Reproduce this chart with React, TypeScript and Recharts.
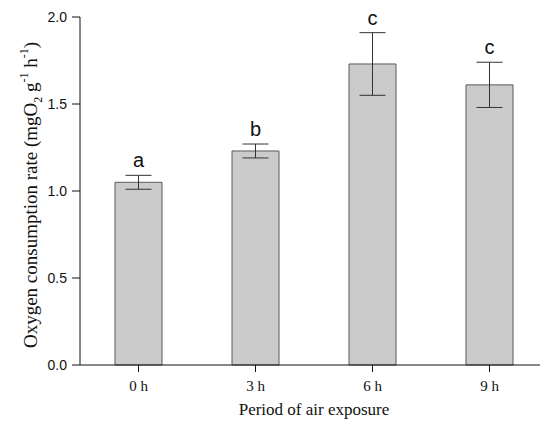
import React from 'react';
import { BarChart, Bar, XAxis, YAxis, ErrorBar } from 'recharts';

const categories = ['0 h', '3 h', '6 h', '9 h'];
const means = [1.05, 1.23, 1.73, 1.61];
const errors = [0.04, 0.04, 0.18, 0.13];
const letters = ['a', 'b', 'c', 'c'];
const yTicks = [0, 0.5, 1.0, 1.5, 2.0];

const data = categories.map((c, i) => ({ name: c, value: means[i], err: errors[i], letter: letters[i] }));

const serif = '"Liberation Serif", "Times New Roman", serif';
const sans = '"Liberation Sans", Arial, sans-serif';

const LetterLabel = (props: any) => {
  const { x, y, width, height, index } = props;
  if (index == null) return null;
  const pxPerUnit = height / means[index];
  const top = y - errors[index] * pxPerUnit;
  return (
    <text x={x + width / 2} y={top - 8} textAnchor="middle" fontFamily={sans} fontSize={20} fill="#111">
      {letters[index]}
    </text>
  );
};

const YTitle = (props: any) => {
  const vb = props.viewBox || {};
  const cx = 29;
  const cy = vb.y + vb.height / 2 + 4;
  return (
    <text
      transform={`translate(${cx},${cy}) rotate(-90)`}
      textAnchor="middle"
      fontFamily={serif}
      fontSize={19}
      fill="#111"
    >
      <tspan>Oxygen consumption rate (mgO</tspan>
      <tspan fontSize={12} dy={5}>2</tspan>
      <tspan fontSize={19} dy={-5}> g</tspan>
      <tspan fontSize={12} dy={-9}>-1</tspan>
      <tspan fontSize={19} dy={9}> h</tspan>
      <tspan fontSize={12} dy={-9}>-1</tspan>
      <tspan fontSize={19} dy={9}>)</tspan>
    </text>
  );
};

const XTitle = (props: any) => {
  const vb = props.viewBox || {};
  return (
    <text x={vb.x + vb.width / 2} y={vb.y + 50} textAnchor="middle" fontFamily={serif} fontSize={17} fill="#111">
      Period of air exposure
    </text>
  );
};

export default function App() {
  return (
    <BarChart width={540} height={414} data={data} margin={{ top: 9, right: 0, bottom: 0, left: 0 }}>
      <XAxis
        dataKey="name"
        height={57}
        tickSize={7}
        tickMargin={8}
        axisLine={{ stroke: '#111', strokeWidth: 1 }}
        tickLine={{ stroke: '#111', strokeWidth: 1 }}
        tick={{ fontFamily: serif, fontSize: 15, fill: '#111' }}
        label={<XTitle />}
      />
      <YAxis
        domain={[0, 2]}
        ticks={yTicks}
        width={72}
        tickSize={8}
        tickMargin={5}
        tickFormatter={(v: number) => v.toFixed(1)}
        axisLine={{ stroke: '#111', strokeWidth: 1 }}
        tickLine={{ stroke: '#111', strokeWidth: 1 }}
        tick={{ fontFamily: sans, fontSize: 14, fill: '#111' }}
        label={<YTitle />}
      />
      <Bar dataKey="value" barSize={47} fill="#cbcbcb" stroke="#5a5a5a" strokeWidth={1} isAnimationActive={false} label={<LetterLabel />}>
        <ErrorBar dataKey="err" width={13} stroke="#333" strokeWidth={1} direction="y" isAnimationActive={false} />
      </Bar>
    </BarChart>
  );
}
